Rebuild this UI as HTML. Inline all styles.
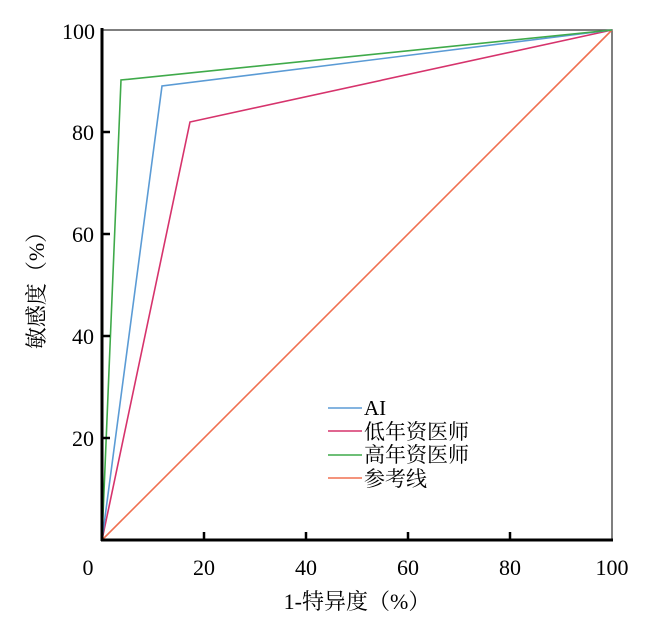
<!DOCTYPE html>
<html><head><meta charset="utf-8"><style>body{margin:0;background:#fff}</style></head>
<body>
<svg width="650" height="621" viewBox="0 0 650 621" xmlns="http://www.w3.org/2000/svg" font-family="Liberation Serif, Noto Serif CJK SC, serif">
<rect width="650" height="621" fill="#fff"/>
<polyline points="102,30 612,30 612,540" fill="none" stroke="#555" stroke-width="1.5"/>
<g fill="none" stroke-width="1.6">
<line x1="102" y1="540" x2="612" y2="30" stroke="#f07050"/>
<polyline points="102,540 190,122 612,30" stroke="#d6336c"/>
<polyline points="102,540 162,86 612,30" stroke="#5b9bd5"/>
<polyline points="102,540 121,80 612,30" stroke="#3faa4a"/>
</g>
<g stroke="#000" stroke-width="3">
<line x1="102" y1="28" x2="102" y2="541"/>
<line x1="101" y1="540" x2="613" y2="540"/>
</g>
<g stroke="#000" stroke-width="2.5">
<line x1="102" y1="438" x2="110" y2="438"/><line x1="102" y1="336" x2="110" y2="336"/>
<line x1="102" y1="234" x2="110" y2="234"/><line x1="102" y1="132" x2="110" y2="132"/>
<line x1="204" y1="540" x2="204" y2="532"/><line x1="306" y1="540" x2="306" y2="532"/>
<line x1="408" y1="540" x2="408" y2="532"/><line x1="510" y1="540" x2="510" y2="532"/>
</g>
<g font-size="22" fill="#000" text-anchor="end">
<text x="94" y="446">20</text><text x="94" y="344">40</text><text x="94" y="242">60</text><text x="94" y="140">80</text><text x="95" y="39">100</text>
</g>
<g font-size="22" fill="#000" text-anchor="middle">
<text x="88" y="575">0</text><text x="204" y="575">20</text><text x="306" y="575">40</text><text x="408" y="575">60</text><text x="510" y="575">80</text><text x="612" y="575">100</text>
<text x="357" y="609">1-特异度（%）</text>
<text transform="translate(44,285) rotate(-90)">敏感度（%）</text>
</g>
<g stroke-width="1.6">
<line x1="328" y1="408" x2="362" y2="408" stroke="#5b9bd5"/>
<line x1="328" y1="431" x2="362" y2="431" stroke="#d6336c"/>
<line x1="328" y1="455" x2="362" y2="455" stroke="#3faa4a"/>
<line x1="328" y1="478" x2="362" y2="478" stroke="#f07050"/>
</g>
<g font-size="21" fill="#000">
<text x="364" y="415">AI</text><text x="364" y="439">低年资医师</text><text x="364" y="462">高年资医师</text><text x="364" y="486">参考线</text>
</g>
</svg>
</body></html>
